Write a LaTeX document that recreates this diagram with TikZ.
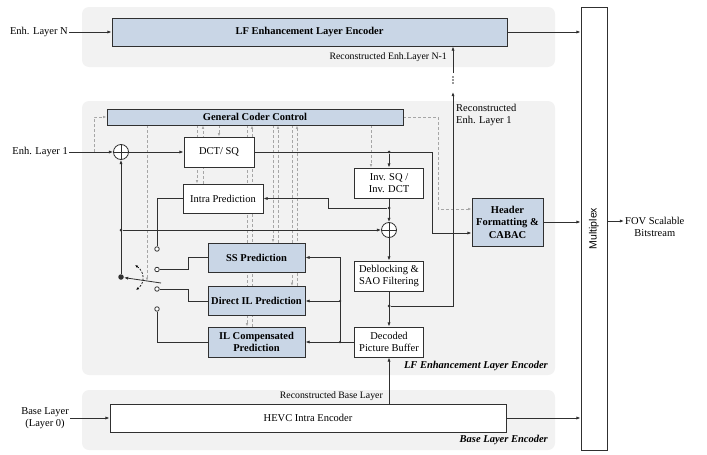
\documentclass[tikz,border=0pt]{standalone}
\usepackage{fontspec}
\setmainfont{Liberation Serif}
\newfontfamily\arialfont{Liberation Sans}
\usetikzlibrary{arrows.meta,calc}
\pgfdeclarelayer{panels}
\pgfdeclarelayer{ctrl}
\pgfsetlayers{panels,ctrl,main}
\definecolor{panelc}{HTML}{F2F2F2}
\definecolor{bluebox}{HTML}{C9D6E6}
\definecolor{lnc}{HTML}{303030}
\definecolor{ctlc}{HTML}{A6A6A6}
\newcommand\dgmfs{\fontsize{10.5}{12.5}\selectfont}
\newcommand\dgmsm{\fontsize{9.8}{12}\selectfont}
\begin{document}
\begin{tikzpicture}[x=1pt,y=-1pt, font=\dgmfs,
  wire/.style={draw=lnc, line width=0.8pt},
  arr/.style={wire, -{Latex[length=4.2pt,width=3.2pt]}},
  box/.style={draw=lnc, line width=0.9pt, fill=white, inner sep=0pt, align=center},
  bbox/.style={box, fill=bluebox, font=\dgmfs\bfseries},
  ctl/.style={draw=ctlc, dash pattern=on 3pt off 2pt, line width=0.8pt},
  ctla/.style={ctl, -{Latex[length=3.5pt,width=2.6pt]}},
  sumn/.style={circle, draw=lnc, line width=0.8pt, fill=white, minimum size=15pt, inner sep=0pt,
    path picture={\draw[lnc, line width=0.8pt] (path picture bounding box.north) -- (path picture bounding box.south)
      (path picture bounding box.west) -- (path picture bounding box.east);}},
  contact/.style={circle, draw=lnc, line width=0.8pt, fill=white, minimum size=4.5pt, inner sep=0pt},
  jdot/.style={circle, fill=lnc, minimum size=3pt, inner sep=0pt},
  lbl/.style={inner sep=1pt},
  panel/.style={fill=panelc, rounded corners=7pt, draw=none}
]
\useasboundingbox (0,0) rectangle (707,455);
\begin{pgfonlayer}{panels}
  \path[panel] (82,7) rectangle (555,67);
  \path[panel] (82,101) rectangle (555,375);
  \path[panel] (82,390) rectangle (555,450);
\end{pgfonlayer}

% ---------- nodes ----------
\node[bbox, minimum width=395pt, minimum height=28pt] (LF) at (309.5,32) {LF Enhancement Layer Encoder};
\node[lbl, anchor=east] (inN) at (69,32) {Enh. Layer N};
\node[bbox, minimum width=296pt, minimum height=16pt] (GCC) at (255,117) {General Coder Control};
\node[lbl, anchor=east] (in1) at (69,152) {Enh. Layer 1};
\node[sumn] (s1) at (121,152) {};
\node[box, minimum width=70pt, minimum height=30pt] (DCT) at (219,152) {DCT/ SQ};
\node[box, minimum width=80pt, minimum height=29pt] (Intra) at (223,198.5) {Intra Prediction};
\node[box, minimum width=69pt, minimum height=30pt] (Inv) at (389,183) {Inv. SQ /\\Inv. DCT};
\node[sumn] (s2) at (389,230) {};
\node[box, minimum width=69pt, minimum height=30pt] (Deb) at (389,276) {Deblocking \&\\SAO Filtering};
\node[box, minimum width=69pt, minimum height=30pt] (DPB) at (389,342) {Decoded\\Picture Buffer};
\node[bbox, minimum width=97pt, minimum height=29pt] (SS) at (256.5,257.5) {SS Prediction};
\node[bbox, minimum width=97pt, minimum height=29pt] (DIL) at (256.5,301) {Direct IL Prediction};
\node[bbox, minimum width=97pt, minimum height=30pt] (ILC) at (256.5,342) {IL Compensated\\Prediction};
\node[bbox, minimum width=71pt, minimum height=48pt] (Hdr) at (507.5,222) {Header\\Formatting \&\\CABAC};
\node[box, minimum width=396pt, minimum height=28pt] (HEVC) at (308,418) {HEVC Intra Encoder};
\node[lbl, anchor=east, align=center] (inB) at (70,418) {Base Layer\\(Layer 0)};
\node[box, minimum width=26pt, minimum height=443pt] (Mux) at (594,228.5) {};
\node[rotate=90, font=\arialfont\dgmfs] (MuxT) at (Mux.center) {Multiplex};
\node[lbl, anchor=west, align=center] (outL) at (624,227) {FOV Scalable\\Bitstream};

\node[contact] (k1) at (157,249) {};
\node[contact] (k2) at (157,269.5) {};
\node[contact] (k3) at (157,289) {};
\node[contact] (k4) at (157,309) {};

% labels
\node[lbl, anchor=east, font=\dgmsm] (recN) at (448,57) {Reconstructed Enh.Layer N-1};
\node[lbl, anchor=west, align=left] (rec1) at (455,115) {Reconstructed\\Enh. Layer 1};
\node[lbl, anchor=east, font=\dgmsm] (recB) at (384,396) {Reconstructed Base Layer};
\node[lbl, anchor=east, font=\dgmfs\bfseries\itshape] (pLF) at (549,366) {LF Enhancement Layer Encoder};
\node[lbl, anchor=east, font=\dgmfs\bfseries\itshape] (pB) at (549,440) {Base Layer Encoder};

% ---------- solid connectors ----------
\draw[arr] (inN.east) -- (LF.west);
\draw[arr] (LF.east) -- (Mux.west |- LF.east);
\coordinate (rN) at (453,73);
\draw[arr] (rN) -- (LF.south -| rN);
\foreach \yy in {77,80,83} \fill[lnc] (453,\yy) circle (0.8pt);

\draw[arr] (in1.east) -- (s1.west);
\draw[arr] (s1.east) -- (DCT.west);
\draw[arr] (DCT.east) -- (432,152) |- (Hdr.west |- 0,233);
\node[jdot] (j1) at (389,152) {};
\draw[arr] (j1) -- (Inv.north);
\draw[arr] (Inv.south) -- (s2.north);
\node[jdot] (j2) at (389,208) {};
\draw[arr] (j2) -| (328,198.5) -- (Intra.east);
\draw[arr] (s2.south) -- (Deb.north);
\draw[arr] (Deb.south) -- (DPB.north);
\node[jdot] (j3) at (389,306) {};
\draw[arr] (j3) -| (453,92);

\node[jdot, minimum size=5.5pt] (piv) at (121,277) {};
\draw[arr] (piv) -- (s1.south);
\node[jdot] (j4) at (121,230) {};
\draw[arr] (j4) -- (s2.west);

\draw[wire] (Intra.west) -| (k1.north);
\draw[wire] (k2.east) -- (k2.east -| 188,0) |- (SS.west);
\draw[wire] (k3.east) -- (k3.east -| 188,0) |- (DIL.west);
\draw[wire] (k4.south) |- (ILC.west);

\draw[arr] (DPB.west) -- (ILC.east);
\draw[arr] (ILC.east -| 340,0) |- (SS.east);
\draw[arr] (DIL.east -| 340,0) -- (DIL.east);
\node[jdot, minimum size=2.5pt] (j5) at (340,301) {};
\node[jdot, minimum size=2.5pt] (j6) at (340,342) {};

\draw[arr] (HEVC.north -| DPB.south) -- (DPB.south);
\draw[arr] (inB.east) -- (HEVC.west);
\draw[arr] (HEVC.east) -- (Mux.west |- HEVC.east);
\draw[arr] (Hdr.east) -- (Mux.west |- Hdr.east);
\draw[arr] (Mux.east |- 0,221) -- (outL.west |- 0,221);

% switch
\draw[arr] (161,283) -- (124,277.6);
\draw[draw=black, line width=0.7pt, dash pattern=on 2pt off 1.5pt,
  {Latex[length=3pt,width=2.5pt]}-{Latex[length=3pt,width=2.5pt]}]
  (135,265) .. controls (145,272) and (145,283) .. (136,290);

% ---------- control (dashed) ----------
\begin{pgfonlayer}{ctrl}
  \draw[ctla] (94,152) |- (GCC.west);
  \draw[ctla] (GCC.east) -| (438,209) -- (Hdr.west |- 0,209);
  \draw[ctla] (GCC.south -| 371,0) -- (Inv.north -| 371,0);
  \draw[ctla] (GCC.south -| 147,0) -- (147,281);
  \draw[ctla] (GCC.south -| 197,0) -- (Intra.north -| 197,0);
  \draw[ctla] (Intra.north -| 203,0) -- (GCC.south -| 203,0);
  \draw[ctla] (GCC.south -| 219,0) -- (DCT.north -| 219,0);
  \draw[ctla] (GCC.south -| 247,0) -- (ILC.north -| 247,0);
  \draw[ctla] (ILC.north -| 252,0) -- (GCC.south -| 252,0);
  \draw[ctla] (GCC.south -| 273,0) -- (SS.north -| 273,0);
  \draw[ctla] (SS.north -| 278,0) -- (GCC.south -| 278,0);
  \draw[ctla] (GCC.south -| 292,0) -- (DIL.north -| 292,0);
  \draw[ctla] (DIL.north -| 297,0) -- (GCC.south -| 297,0);
\end{pgfonlayer}
\end{tikzpicture}
\end{document}
